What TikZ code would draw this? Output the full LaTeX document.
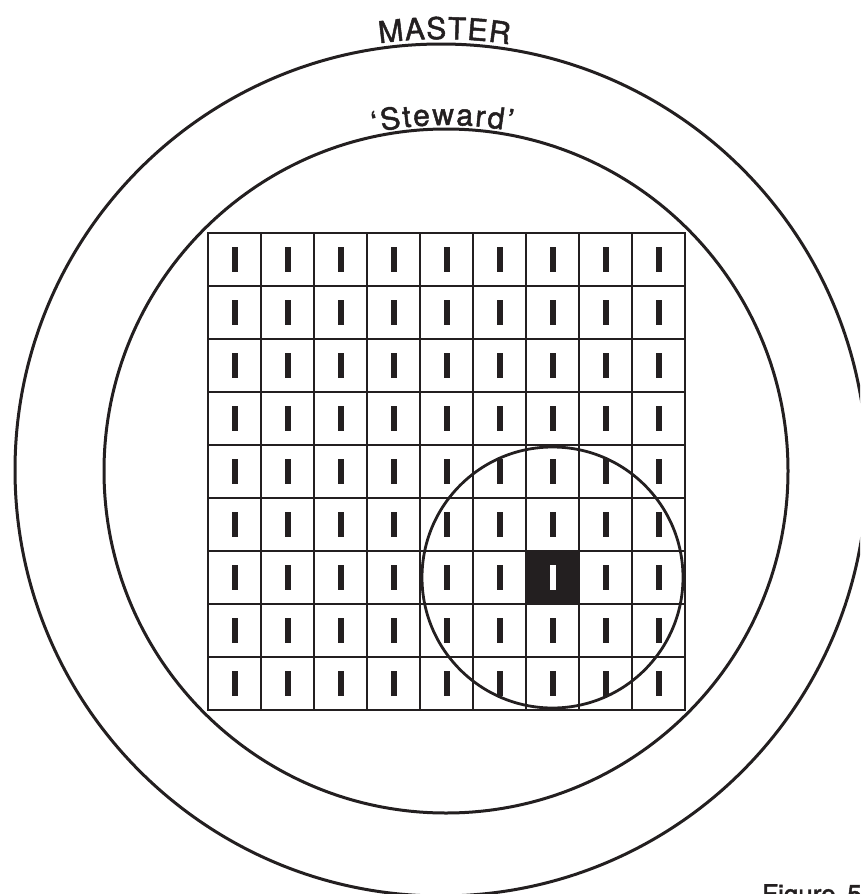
\documentclass[tikz,border=0pt]{standalone}
\usepackage{fontspec}
\setmainfont{TeX Gyre Heros}
\newfontfamily\medfont{TeX Gyre Heros}[FakeBold=1.6]
\usetikzlibrary{decorations.text}
\definecolor{ink}{HTML}{231F20}
\begin{document}
\begin{tikzpicture}[x=1pt,y=1pt,
  ring/.style={circle,draw=ink,line width=3pt,inner sep=0pt,outer sep=0pt},
  cellbox/.style={draw=ink,line width=1.6pt,minimum size=53pt,inner sep=0pt,outer sep=0pt,anchor=north west},
  barbox/.style={fill=ink,minimum width=6pt,minimum height=25pt,inner sep=0pt,outer sep=0pt},
  arctext/.style={decorate,decoration={text along path,text align=fit to path,
      text={#1},text format delimiters={|}{|},text color=ink}}]
\useasboundingbox (0,0) rectangle (860,-894);
\clip (0,0) rectangle (860,-894);
% rings
\node[ring,minimum size=852pt] (outer) at (441,-470) {};
\node[ring,minimum size=684pt] (inner) at (446,-471) {};
% curved labels
\path[arctext={|\medfont\fontsize{30}{36}\selectfont|MASTER}]
  ([shift={(441,-470)}]98.2:431pt) arc[start angle=98.2,end angle=80.9,radius=431pt];
\path[arctext={|\medfont\fontsize{30}{36}\selectfont|‘Steward’}]
  ([shift={(446,-471)}]102.1:346pt) arc[start angle=102.1,end angle=79.1,radius=346pt];
% grid
\foreach \r in {0,...,8}{
  \foreach \c in {0,...,8}{
    \node[cellbox] (c\r\c) at (208+\c*53,-233-\r*53) {};
    \node[barbox] (b\r\c) at (c\r\c.center) {};
  }
}
% highlighted cell
\node[cellbox,fill=ink] (hot) at (526,-551) {};
\node[barbox,fill=white] (hotbar) at (hot.center) {};
% neighbourhood circle
\node[circle,draw=ink,line width=2.8pt,inner sep=0pt,minimum size=261pt] (focus) at (hot.center) {};
% caption (cut off at the bottom edge, as in the reference)
\node[anchor=north west,inner sep=0pt,font=\medfont\fontsize{26}{30}\selectfont,text=ink] (caption) at (762,-884) {Figure\hspace{0.45em}5};
\end{tikzpicture}
\end{document}
